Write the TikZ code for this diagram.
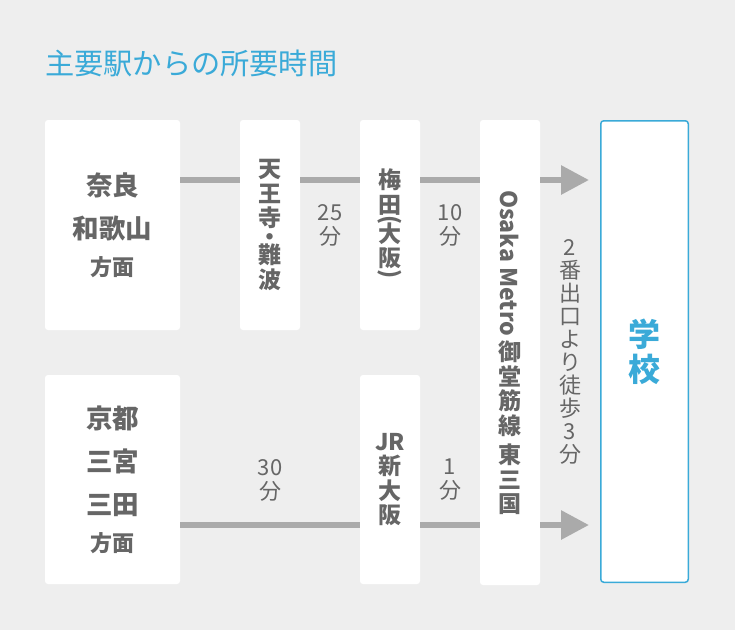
\documentclass[tikz,border=0pt]{standalone}
\usepackage{fontspec}
\setmainfont{Noto Sans CJK JP}
\usetikzlibrary{arrows.meta}
\definecolor{bggray}{HTML}{EEEEEE}
\definecolor{txtgray}{HTML}{666666}
\definecolor{railgray}{HTML}{AAAAAA}
\definecolor{titleblue}{HTML}{3AAAD8}

\begin{document}
\begin{tikzpicture}[x=1pt,y=-1pt,
	box/.style={fill=white,rounded corners=3pt,inner sep=0pt,align=center,text=txtgray},
	area/.style={box,minimum width=135pt,font=\bfseries\fontsize{26.5}{43}\selectfont},
	stop/.style={box,minimum width=60pt,font=\bfseries\fontsize{23}{24.5}\selectfont},
	mins/.style={inner sep=0pt,align=center,text=txtgray,font=\fontsize{22}{24}\selectfont},
	rail/.style={draw=railgray,line width=6pt}]
	\fill[bggray] (0,0) rectangle (735,630);

	\node[anchor=west,inner sep=0pt,text=titleblue,font=\fontsize{29.2}{30}\selectfont] (title) at (45,63) {主要駅からの所要時間};

	\coordinate (rowA) at (0,180);
	\coordinate (rowB) at (0,525);

	\node[area,minimum height=210pt] (nara) at (112.5,225) {奈良\\和歌山\\[-6pt]{\fontsize{22}{22}\selectfont 方面}};
	\node[area,minimum height=209pt] (kyoto) at (112.5,479.5) {京都\\三宮\\三田\\[-6pt]{\fontsize{22}{22}\selectfont 方面}};
	\node[stop,minimum height=210pt] (tennoji) at (270,225) {天\\王\\寺\\[-6pt]\smash{・}\\[-6pt]難\\波};
	\node[stop,minimum height=210pt] (umeda) at (390,225) {梅\\田\\[-10pt]\rotatebox[origin=c]{-90}{(}\\[-10pt]大\\阪\\[-10pt]\rotatebox[origin=c]{-90}{)}};
	\node[stop,minimum height=209pt] (shinosaka) at (390,479.5) {JR\\新\\大\\阪};
	\node[stop,minimum height=465pt] (metro) at (510,352.5) {\rotatebox{-90}{Osaka Metro}\\[4pt]御\\堂\\筋\\線\\[5pt]東\\三\\国};
	\node[box,draw=titleblue,line width=1.5pt,minimum width=87.5pt,minimum height=461.5pt,text=titleblue,font=\bfseries\fontsize{32}{35}\selectfont] (school) at (644.5,351.5) {学\\校};

	\node[mins] (t25) at (330,225) {25\\分};
	\node[mins] (t10) at (450,225) {10\\分};
	\node[mins] (t30) at (270,480) {30\\分};
	\node[mins] (t1) at (450,480) {1\\分};
	\node[mins,font=\fontsize{22}{23}\selectfont] (walk) at (570,352) {2\\番\\出\\口\\よ\\り\\徒\\歩\\3\\分};

	\draw[rail] (nara.east |- rowA) -- (tennoji.west |- rowA);
	\draw[rail] (tennoji.east |- rowA) -- (umeda.west |- rowA);
	\draw[rail] (umeda.east |- rowA) -- (metro.west |- rowA);
	\draw[rail,-{Triangle[length=28pt,width=28pt]},shorten >=11pt] (metro.east |- rowA) -- (school.west |- rowA);
	\draw[rail] (kyoto.east |- rowB) -- (shinosaka.west |- rowB);
	\draw[rail] (shinosaka.east |- rowB) -- (metro.west |- rowB);
	\draw[rail,-{Triangle[length=28pt,width=28pt]},shorten >=11pt] (metro.east |- rowB) -- (school.west |- rowB);
\end{tikzpicture}
\end{document}
